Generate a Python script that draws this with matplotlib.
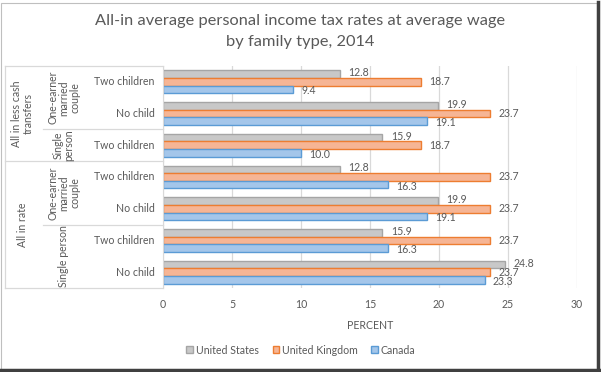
import matplotlib.pyplot as plt
from matplotlib.patches import Rectangle
from matplotlib.lines import Line2D
import numpy as np

plt.rcParams['font.family'] = ['Lato', 'DejaVu Sans']

# rows top to bottom
rows = ["Two children", "No child", "Two children", "Two children", "No child", "Two children", "No child"]
us = [12.8, 19.9, 15.9, 12.8, 19.9, 15.9, 24.8]
uk = [18.7, 23.7, 18.7, 23.7, 23.7, 23.7, 23.7]
canada = [9.4, 19.1, 10.0, 16.3, 19.1, 16.3, 23.3]
series_names = ["United States", "United Kingdom", "Canada"]

# (label, first row, last row)
level2 = [("One-earner\nmarried\ncouple", 0, 1), ("Single\nperson", 2, 2),
          ("One-earner\nmarried\ncouple", 3, 4), ("Single person", 5, 6)]
level1 = [("All in less cash\ntransfers", 0, 2), ("All in rate", 3, 6)]

txt = '#595959'
fs = 7.6
fills = ['#C8C8C8', '#F6B595', '#A4C6EA']
edges = ['#A5A5A5', '#ED7D31', '#5B9BD5']

fig = plt.figure(figsize=(6.01, 3.72), dpi=100)
ax = fig.add_axes([163 / 601, 1 - 288 / 372, 414 / 601, 222 / 372])

y = np.arange(len(rows))
h = 0.24
for i, vals in enumerate([us, uk, canada]):
    pos = y + (i - 1) * h
    ax.barh(pos, vals, height=h, color=fills[i], edgecolor=edges[i], linewidth=1.0,
            label=series_names[i], zorder=2)
    for p, v in zip(pos, vals):
        ax.annotate(f"{v:.1f}", (v, p), xytext=(6, 1 - i), textcoords='offset points',
                    va='center', ha='left', fontsize=fs, color=txt, zorder=3)

ax.set_xlim(0, 30)
ax.set_ylim(len(rows) - 0.5, -0.5)
ax.set_xticks(np.arange(0, 31, 5))
ax.grid(axis='x', color='#D9D9D9', linewidth=0.9, zorder=0)
ax.set_axisbelow(True)
ax.tick_params(axis='x', length=0, labelsize=fs, labelcolor=txt, pad=8)
ax.tick_params(axis='y', length=0)
ax.set_yticks([])
for s in ['top', 'right', 'bottom']:
    ax.spines[s].set_visible(False)
ax.spines['left'].set_color('#D9D9D9')
ax.set_xlabel("PERCENT", fontsize=fs, color=txt, labelpad=7)

# multi-level category axis
tr = ax.get_yaxis_transform()
x_out = (5 - 163) / 414
x_mid = (43 - 163) / 414
for r, lab in enumerate(rows):
    ax.text(-0.02, r, lab, transform=tr, ha='right', va='center', fontsize=fs, color=txt)
for lab, a, b in level2:
    ax.text(-0.24, (a + b) / 2, lab, transform=tr, ha='center', va='center', rotation=90,
            fontsize=fs, color=txt, linespacing=1.0)
for lab, a, b in level1:
    ax.text(-0.34, (a + b) / 2, lab, transform=tr, ha='center', va='center', rotation=90,
            fontsize=fs, color=txt, linespacing=1.0)
lc = '#D9D9D9'
for yy, x0 in [(-0.5, x_out), (2.5, x_out), (6.5, x_out), (1.5, x_mid), (4.5, x_mid)]:
    ax.add_line(Line2D([x0, 0], [yy, yy], transform=tr, color=lc, lw=0.9, clip_on=False))
ax.add_line(Line2D([x_out, x_out], [-0.5, 6.5], transform=tr, color=lc, lw=0.9, clip_on=False))

fig.text(0.5, 1 - 31.5 / 372, "All-in average personal income tax rates at average wage\nby family type, 2014",
         ha='center', va='center', fontsize=11.8, color=txt, linespacing=1.6)

leg = fig.legend(loc='center', bbox_to_anchor=(301 / 601, 1 - 350 / 372), ncol=3, frameon=False,
                 fontsize=fs, handlelength=0.6, handleheight=0.6, handletextpad=0.3,
                 columnspacing=1.3)
for t in leg.get_texts():
    t.set_color(txt)

# picture frame
fig.add_artist(Rectangle((0.001, 0.002), 0.993, 0.99, transform=fig.transFigure,
                         fill=False, edgecolor='#BFBFBF', lw=0.8))
fig.add_artist(Line2D([0.995, 0.995], [0.0, 0.995], transform=fig.transFigure, color='#404040', lw=2.5))
fig.add_artist(Line2D([0.0, 0.997], [0.006, 0.006], transform=fig.transFigure, color='#404040', lw=2.5))

fig.savefig("out.png", dpi=100)
